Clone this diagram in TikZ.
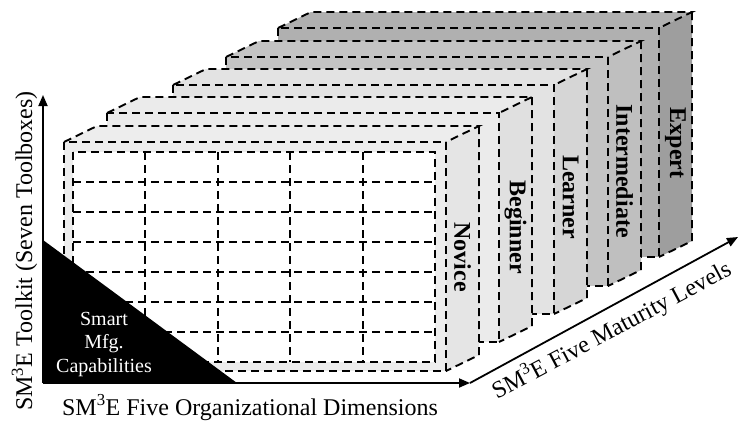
\documentclass[tikz,border=0pt]{standalone}
\usepackage{fontspec}
\setmainfont{Liberation Serif}
\usetikzlibrary{arrows.meta}

\begin{document}
\begin{tikzpicture}[x=1pt, y=-1pt,
    box_edge/.style={
        draw=black,
        line width=1.9pt,
        dash pattern=on 8pt off 5pt
    },
    level_label/.style={
        rotate=-90,
        inner sep=0pt,
        font=\fontsize{24}{28}\selectfont\bfseries
    },
    axis/.style={
        line width=1.8pt,
        -{Triangle[length=11pt, width=9pt]}
    },
    axis_label/.style={
        anchor=base,
        inner sep=0pt,
        font=\fontsize{24}{28}\selectfont
    }]
    \useasboundingbox (0,0) rectangle (738,421);
    % maturity levels, drawn back to front
    \foreach \lft/\rgt/\tp/\front/\side/\level/\ly in {
        278/659/28/black!31/black!38/Expert/143,
        226/608/57/black!23/black!25/Intermediate/171,
        173/554/85/black!11/black!16/Learner/197,
        107/499/113/black!8/black!12/Beginner/227,
        64/446/142/black!7/black!10/Novice/257}
    {
        \fill[\front] (\lft,\tp) rectangle (\rgt,\tp+229);
        \fill[\front] (\lft,\tp) -- ++(33,-16) -- (\rgt+33,\tp-16) -- (\rgt,\tp) -- cycle;
        \fill[\side] (\rgt,\tp) -- (\rgt+33,\tp-16) -- (\rgt+33,\tp+213) -- (\rgt,\tp+229) -- cycle;
        \draw[box_edge] (\lft,\tp) rectangle (\rgt,\tp+229);
        \draw[box_edge] (\lft,\tp) -- ++(33,-16) -- (\rgt+33,\tp-16) -- (\rgt,\tp);
        \draw[box_edge] (\rgt+33,\tp-16) -- (\rgt+33,\tp+213) -- (\rgt,\tp+229);
        \node[level_label] (level_\level) at (\rgt+16.5,\ly) {\level};
    }
    % toolboxes x dimensions
    \draw[box_edge, fill=white] (73,152) rectangle (435,362);
    \foreach \row in {1,...,6}
        \draw[box_edge] (73,152+30*\row) -- (435,152+30*\row);
    \foreach \col in {1,...,4}
        \draw[box_edge] (73+72.4*\col,152) -- (73+72.4*\col,362);
    % axes
    \coordinate (origin) at (43,383);
    \coordinate (toolkit_tip) at (43,95);
    \coordinate (dimension_tip) at (470,383);
    \coordinate (maturity_tip) at (738,237);
    \fill[black] (origin) -- (43,240) -- (237,383) -- cycle;
    \node (smart_mfg) [align=center, text=white, inner sep=0pt,
        font=\fontsize{20}{23.5}\selectfont] at (104,344)
    {
        Smart\\Mfg.\\Capabilities
    };
    \draw[axis] (origin) -- (toolkit_tip);
    \draw[axis] (origin) -- (dimension_tip);
    \draw[axis] (dimension_tip) -- (maturity_tip);
    \node (toolkit_label) [axis_label, rotate=90] at (32,251)
    {
        SM\textsuperscript{3}E Toolkit (Seven Toolboxes)
    };
    \node (dimension_label) [axis_label] at (250,415)
    {
        SM\textsuperscript{3}E Five Organizational Dimensions
    };
    \node (maturity_label) [axis_label, rotate=28] at (615,337)
    {
        SM\textsuperscript{3}E Five Maturity Levels
    };
\end{tikzpicture}
\end{document}
